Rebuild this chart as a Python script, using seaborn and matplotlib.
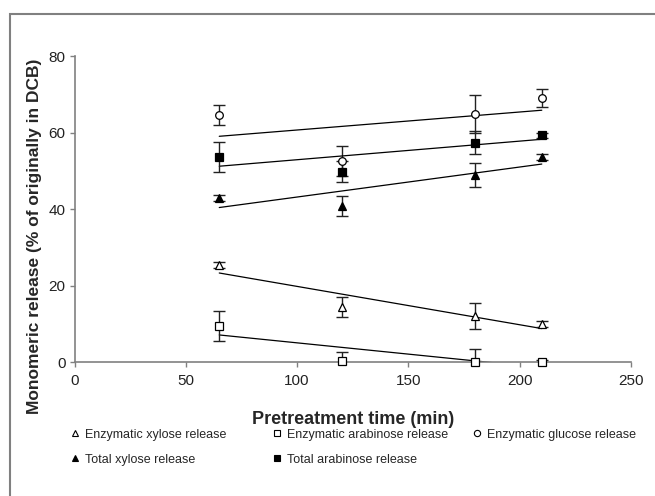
import numpy as np
import pandas as pd
import matplotlib
matplotlib.use("Agg")
import matplotlib.pyplot as plt
from matplotlib.lines import Line2D
from matplotlib.patches import Rectangle
import seaborn as sns

# pretreatment times (min)
time = [65, 120, 180, 210]

# monomeric release (% of originally in DCB) and error bars
enz_xylose = [25.4, 14.3, 12.0, 9.9]
enz_xylose_err = [0.8, 2.6, 3.4, 0.8]
enz_arabinose = [9.4, 0.2, 0.1, 0.1]
enz_arabinose_err = [4.0, 2.5, 3.3, 0.5]
enz_glucose = [64.6, 52.5, 64.8, 69.0]
enz_glucose_err = [2.5, 3.9, 5.0, 2.3]
tot_xylose = [43.0, 40.7, 48.9, 53.7]
tot_xylose_err = [0.8, 2.6, 3.2, 0.8]
tot_arabinose = [53.6, 49.8, 57.4, 59.3]
tot_arabinose_err = [4.0, 2.8, 3.0, 0.6]

labels = ["Enzymatic xylose release", "Enzymatic arabinose release",
          "Enzymatic glucose release", "Total xylose release",
          "Total arabinose release"]

sns.set_style("white")
plt.rcParams['font.family'] = ['Liberation Sans', 'DejaVu Sans']

fig = plt.figure(figsize=(6.55, 4.96), dpi=100)
ax = fig.add_axes([0.114, 0.270, 0.849, 0.617])

series = [
    (enz_xylose, enz_xylose_err, '^', 'white'),
    (enz_arabinose, enz_arabinose_err, 's', 'white'),
    (enz_glucose, enz_glucose_err, 'o', 'white'),
    (tot_xylose, tot_xylose_err, '^', 'black'),
    (tot_arabinose, tot_arabinose_err, 's', 'black'),
]

handles = []
for (vals, err, mk, fc), lab in zip(series, labels):
    df = pd.DataFrame({'time': time, 'release': vals})
    # linear trend line over the data range
    sns.regplot(data=df, x='time', y='release', ax=ax, ci=None, scatter=False,
                truncate=True, line_kws={'color': 'black', 'lw': 0.9})
    ax.errorbar(time, vals, yerr=err, fmt='none', ecolor='#222222',
                elinewidth=1.0, capsize=4, capthick=1.0)
    ax.plot(time, vals, linestyle='none', marker=mk, markersize=5.5,
            markerfacecolor=fc, markeredgecolor='black', markeredgewidth=0.9,
            clip_on=False, zorder=5)
    handles.append(Line2D([], [], linestyle='none', marker=mk, markersize=4.5,
                          markerfacecolor=fc, markeredgecolor='black',
                          markeredgewidth=0.8, label=lab))

ax.set_xlim(0, 250)
ax.set_ylim(0, 80)
ax.set_xticks([0, 50, 100, 150, 200, 250])
ax.set_yticks([0, 20, 40, 60, 80])
ax.set_xlabel("Pretreatment time (min)", fontsize=13, fontweight='bold',
              labelpad=17)
ax.set_ylabel("Monomeric release (% of originally in DCB)", fontsize=12.5,
              fontweight='bold')
ax.yaxis.set_label_coords(-0.058, 0.41)

for side in ['top', 'right']:
    ax.spines[side].set_visible(False)
for side in ['left', 'bottom']:
    ax.spines[side].set_color('#808080')
    ax.spines[side].set_linewidth(1.2)
ax.tick_params(axis='both', which='major', direction='out', length=3.5,
               width=1.0, color='#808080', labelsize=11, labelcolor='#222222',
               pad=3)
ax.tick_params(axis='x', bottom=True, pad=5)
ax.tick_params(axis='y', left=True)

# legend laid out in three fixed columns
columns = [([handles[0], handles[3]], 0.107),
           ([handles[1], handles[4]], 0.415),
           ([handles[2]], 0.720)]
for hs, x0 in columns:
    fig.legend(handles=hs, loc='upper left', bbox_to_anchor=(x0, 0.136),
               bbox_transform=fig.transFigure, frameon=False, fontsize=9,
               handlelength=0.8, handletextpad=0.4, labelspacing=1.05,
               borderaxespad=0, borderpad=0)

# figure frame (top and left visible)
fig.patches.append(Rectangle((10 / 655, -0.2), 1.5, 0.9718 + 0.2,
                             transform=fig.transFigure, fill=False,
                             edgecolor='#808080', linewidth=1.5))

fig.savefig("out.png", dpi=100)
